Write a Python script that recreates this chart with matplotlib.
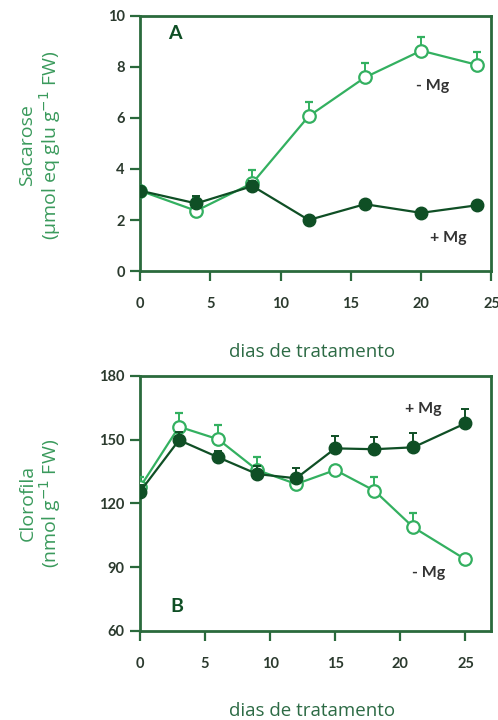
import matplotlib
matplotlib.use("Agg")
import matplotlib.pyplot as plt
import numpy as np

plt.rcParams['font.family'] = ['Lato', 'DejaVu Sans']

# Panel A: Sacarose
days_a = [0, 4, 8, 12, 16, 20, 24]
suc_plus = [3.15, 2.65, 3.33, 2.0, 2.62, 2.28, 2.58]
suc_plus_err = [0.1, 0.3, 0.2, 0.1, 0.1, 0.1, 0.1]
suc_minus = [3.15, 2.36, 3.45, 6.07, 7.59, 8.64, 8.08]
suc_minus_err = [0.1, 0.5, 0.5, 0.57, 0.58, 0.55, 0.52]

# Panel B: Clorofila
days_b = [0, 3, 6, 9, 12, 15, 18, 21, 25]
chl_plus = [125.5, 149.8, 141.7, 133.8, 131.8, 145.9, 145.5, 146.4, 157.7]
chl_plus_err = [3, 4, 3, 4, 4.7, 5.8, 5.6, 6.9, 6.6]
chl_minus = [127.6, 156.1, 150.2, 135.7, 129.1, 135.7, 126.0, 108.7, 93.6]
chl_minus_err = [5, 6.3, 6.7, 6.3, 3, 2, 6.3, 6.6, 1]

DARK = '#0f4f25'
LIGHT = '#33b060'
FRAME = '#2a6a3c'
TICKC = '#2b3a2e'
YLAB = '#3a9a5c'
XLAB = '#2d6b45'
LABFONT = ['Open Sans', 'DejaVu Sans']

fig = plt.figure(figsize=(4.98, 7.2), dpi=100)
axA = fig.add_axes([0.2811, 0.6236, 0.7058, 0.3542])
axB = fig.add_axes([0.2811, 0.1240, 0.7058, 0.3538])


def style(ax):
    for s in ax.spines.values():
        s.set_color(FRAME)
        s.set_linewidth(2.0)
    ax.tick_params(axis='both', direction='out', length=7, width=1.6,
                   color=FRAME, labelcolor=TICKC, labelsize=10.5)
    ax.tick_params(axis='x', pad=12)
    ax.tick_params(axis='y', pad=4)
    for lab in ax.get_xticklabels() + ax.get_yticklabels():
        lab.set_fontweight('bold')


def draw(ax, x, yp, ep, ym, em):
    ax.errorbar(x, ym, yerr=[np.zeros(len(em)), em], color=LIGHT, lw=1.6,
                marker='o', ms=9, mfc='white', mec=LIGHT, mew=1.6,
                capsize=3, capthick=1.4, elinewidth=1.4, zorder=3)
    ax.errorbar(x, yp, yerr=[np.zeros(len(ep)), ep], color=DARK, lw=1.6,
                marker='o', ms=9, mfc=DARK, mec=DARK,
                capsize=3, capthick=1.4, elinewidth=1.4, zorder=4)


draw(axA, days_a, suc_plus, suc_plus_err, suc_minus, suc_minus_err)
axA.set_xlim(0, 25)
axA.set_ylim(0, 10)
axA.set_xticks([0, 5, 10, 15, 20, 25])
axA.set_yticks([0, 2, 4, 6, 8, 10])
style(axA)
axA.text(2.5, 9.33, 'A', fontsize=14, fontweight='bold', color=DARK,
         ha='center', va='center')
axA.text(20.8, 7.25, '- Mg', fontsize=11.5, fontweight='bold', color='#333333',
         ha='center', va='center')
axA.text(21.9, 1.28, '+ Mg', fontsize=11.5, fontweight='bold', color='#333333',
         ha='center', va='center')

draw(axB, days_b, chl_plus, chl_plus_err, chl_minus, chl_minus_err)
axB.set_xlim(0, 27)
axB.set_ylim(60, 180)
axB.set_xticks([0, 5, 10, 15, 20, 25])
axB.set_yticks([60, 90, 120, 150, 180])
style(axB)
axB.text(2.8, 71.3, 'B', fontsize=14, fontweight='bold', color=DARK,
         ha='center', va='center')
axB.text(21.8, 164.5, '+ Mg', fontsize=11.5, fontweight='bold', color='#333333',
         ha='center', va='center')
axB.text(22.15, 87.0, '- Mg', fontsize=11.5, fontweight='bold', color='#333333',
         ha='center', va='center')

# axis labels
fig.text(41 / 498, 1 - 145 / 720, 'Sacarose\n(µmol eq glu g$^{-1}$ FW)',
         rotation=90, ha='center', va='center', fontsize=14, color=YLAB,
         linespacing=1.05, multialignment='center', family=LABFONT)
fig.text(41 / 498, 1 - 503 / 720, 'Clorofila\n(nmol g$^{-1}$ FW)',
         rotation=90, ha='center', va='center', fontsize=14, color=YLAB,
         linespacing=1.05, multialignment='center', family=LABFONT)
fig.text(312 / 498, 1 - 352 / 720, 'dias de tratamento', ha='center',
         va='center', fontsize=13.5, color=XLAB, family=LABFONT)
fig.text(312 / 498, 1 - 711 / 720, 'dias de tratamento', ha='center',
         va='center', fontsize=13.5, color=XLAB, family=LABFONT)

fig.savefig('out.png', dpi=100)
